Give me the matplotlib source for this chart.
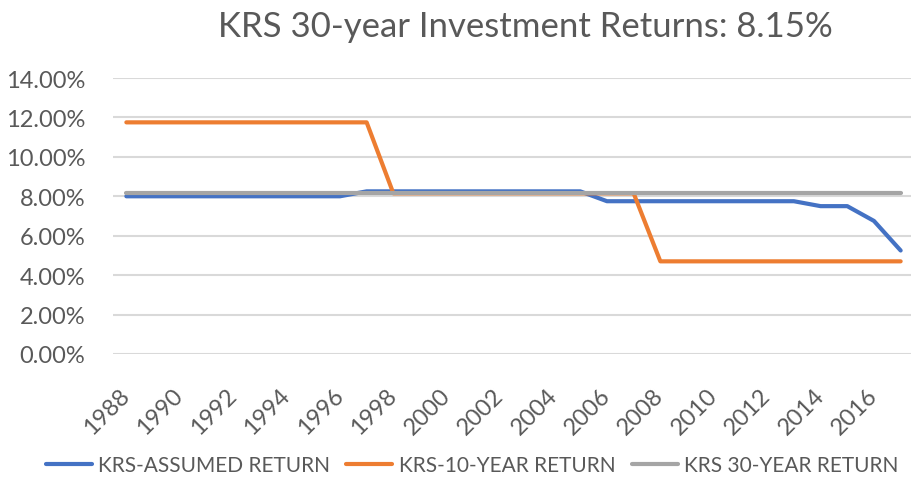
"""
KRS 30-year investment returns line chart
"""

import matplotlib

matplotlib.use("Agg")
import matplotlib.pyplot as plt
from matplotlib.ticker import PercentFormatter

plt.rcParams["font.family"] = ["Lato", "DejaVu Sans"]

TEXT_COLOR = "#595959"
GRID_COLOR = "#D9D9D9"

years = list(range(1988, 2018))
assumed_return = [
    8.0, 8.0, 8.0, 8.0, 8.0, 8.0, 8.0, 8.0, 8.0, 8.25,
    8.25, 8.25, 8.25, 8.25, 8.25, 8.25, 8.25, 8.25, 7.75, 7.75,
    7.75, 7.75, 7.75, 7.75, 7.75, 7.75, 7.5, 7.5, 6.75, 5.25,
]
ten_year_return = [
    11.75, 11.75, 11.75, 11.75, 11.75, 11.75, 11.75, 11.75, 11.75, 11.75,
    8.15, 8.15, 8.15, 8.15, 8.15, 8.15, 8.15, 8.15, 8.15, 8.15,
    4.7, 4.7, 4.7, 4.7, 4.7, 4.7, 4.7, 4.7, 4.7, 4.7,
]
thirty_year_return = [8.15] * len(years)

series = [
    ("KRS-ASSUMED RETURN", assumed_return, "#4472C4"),
    ("KRS-10-YEAR RETURN", ten_year_return, "#ED7D31"),
    ("KRS 30-YEAR RETURN", thirty_year_return, "#A5A5A5"),
]

fig = plt.figure(figsize=(9.12, 4.89), dpi=100)
ax = fig.add_axes([113 / 912, 1 - 355 / 489, 801 / 912, 276 / 489])

x = list(range(len(years)))
for label, values, color in series:
    ax.plot(x, values, color=color, linewidth=3, label=label,
            solid_capstyle="round", solid_joinstyle="round")

ax.set_xlim(-0.5, len(years) - 0.5)
ax.set_ylim(0, 14)
ax.set_yticks(range(0, 15, 2))
ax.yaxis.set_major_formatter(PercentFormatter(decimals=2))
ax.grid(axis="y", color=GRID_COLOR, linewidth=1.5)
ax.set_axisbelow(True)
for side in ax.spines.values():
    side.set_visible(False)

ax.set_xticks(x[::2])
ax.set_xticklabels([str(y) for y in years[::2]], rotation=45, ha="right",
                   va="center", rotation_mode="anchor")
ax.tick_params(axis="x", length=0, pad=27, labelsize=17, labelcolor=TEXT_COLOR)
ax.tick_params(axis="y", length=0, pad=20, labelsize=17, labelcolor=TEXT_COLOR)

fig.text(525 / 912, 1 - 27 / 489, "KRS 30-year Investment Returns: 8.15%",
         ha="center", va="center", fontsize=25, color=TEXT_COLOR)

fig.legend(loc="center", bbox_to_anchor=(472 / 912, 1 - 466 / 489), ncol=3,
           frameon=False, fontsize=15, labelcolor=TEXT_COLOR,
           handlelength=2.2, handletextpad=0.3, columnspacing=0.8)

fig.savefig("out.png", dpi=100)
